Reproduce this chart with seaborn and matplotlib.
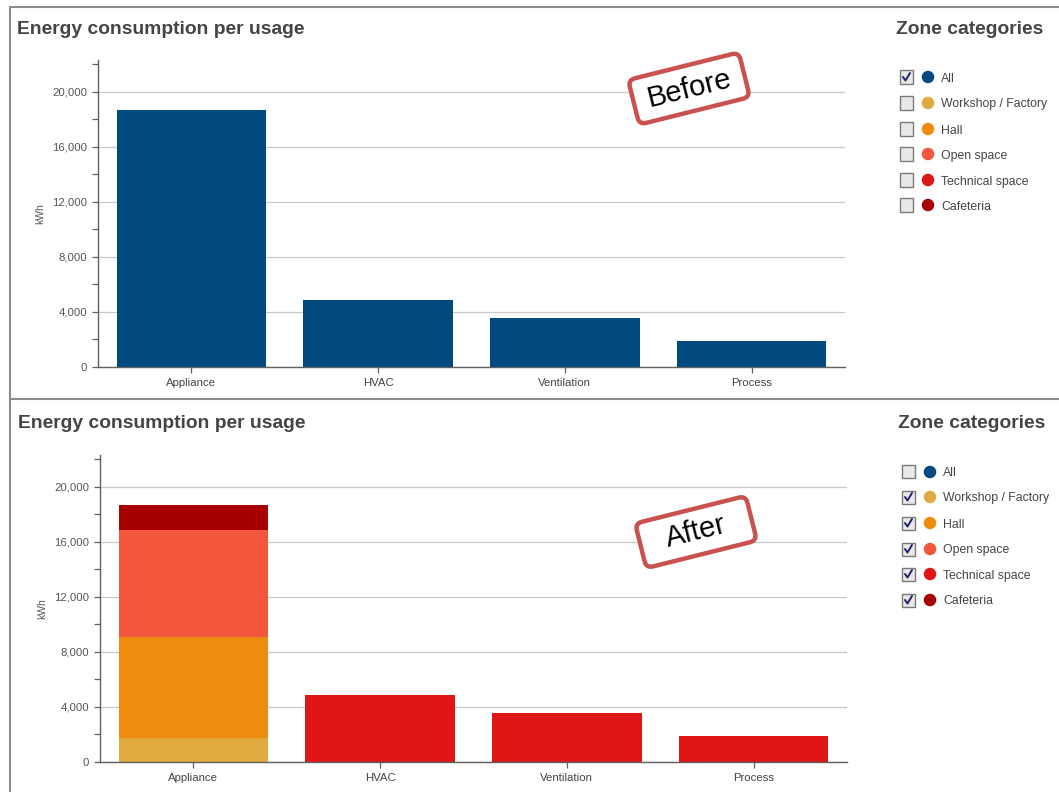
import matplotlib
matplotlib.use("Agg")
import matplotlib.pyplot as plt
import seaborn as sns
import numpy as np
from matplotlib.patches import Rectangle, Ellipse, FancyBboxPatch
from matplotlib.lines import Line2D
from matplotlib.transforms import Affine2D
from matplotlib.ticker import MultipleLocator, FuncFormatter

# ---------------- data ----------------
categories = ["Appliance", "HVAC", "Ventilation", "Process"]
all_zones = [18690, 4870, 3560, 1890]
workshop = [1750, 0, 0, 0]
hall = [7340, 0, 0, 0]
open_space = [7780, 0, 0, 0]
technical = [0, 4870, 3560, 1890]
cafeteria = [1820, 0, 0, 0]
zone_names = ["All", "Workshop / Factory", "Hall", "Open space", "Technical space", "Cafeteria"]
zone_colors = ["#004a80", "#e0aa40", "#ee8c10", "#f2573b", "#e01515", "#a80000"]
checked_before = [True, False, False, False, False, False]
checked_after = [False, True, True, True, True, True]
y_ticks = [0, 4000, 8000, 12000, 16000, 20000]
title = "Energy consumption per usage"
legend_title = "Zone categories"
y_label = "kWh"

# ---------------- setup ----------------
sns.set_theme(style="white")
plt.rcParams["font.family"] = ["Liberation Sans", "DejaVu Sans"]

W, H = 1059, 792
fig = plt.figure(figsize=(W / 100, H / 100), dpi=100)
fig.patch.set_facecolor("white")


def fx(px):
    return px / W


def fy(py):
    return 1 - py / H


ax1 = fig.add_axes([fx(98), fy(367), (845 - 98) / W, (367 - 60) / H])
ax2 = fig.add_axes([fx(100), fy(762), (847 - 100) / W, (762 - 455) / H])


def style(ax):
    ax.set_xlim(-0.5, 3.5)
    ax.set_ylim(0, 22300)
    ax.set_yticks(y_ticks)
    ax.yaxis.set_minor_locator(MultipleLocator(2000))
    ax.yaxis.set_major_formatter(FuncFormatter(lambda v, p: f"{int(v):,}"))
    ax.grid(axis="y", which="major", color="#c8c8c8", linewidth=0.9)
    ax.grid(axis="x", visible=False)
    ax.set_axisbelow(True)
    for s in ["top", "right"]:
        ax.spines[s].set_visible(False)
    for s in ["left", "bottom"]:
        ax.spines[s].set_color("#606060")
        ax.spines[s].set_linewidth(1.0)
    ax.tick_params(axis="y", which="both", left=True, length=4, width=0.9,
                   color="#606060", labelsize=8.2, labelcolor="#555555", pad=4)
    ax.tick_params(axis="x", bottom=True, length=4, width=0.9, color="#606060",
                   labelsize=8.2, labelcolor="#444444", pad=4)
    ax.set_xlabel("")
    ax.set_ylabel(y_label, fontsize=7.5, color="#555555")
    ax.yaxis.set_label_coords(-0.071, 0.5)
    ax.set_facecolor("white")


# Before: all zones
sns.barplot(x=categories, y=all_zones, color=zone_colors[0], width=0.8,
            saturation=1, linewidth=0, errorbar=None, ax=ax1)
style(ax1)

# After: stacked by zone (draw cumulative totals from top to bottom)
stack = np.array([workshop, hall, open_space, technical, cafeteria])
cum = np.cumsum(stack, axis=0)
for i in reversed(range(len(stack))):
    sns.barplot(x=categories, y=cum[i], color=zone_colors[i + 1], width=0.8,
                saturation=1, linewidth=0, errorbar=None, ax=ax2)
style(ax2)

# ---------------- frame lines ----------------
grey = "#8c8c8c"
fig.add_artist(Line2D([fx(10), 1], [fy(7), fy(7)], transform=fig.transFigure, color=grey, lw=1.5))
fig.add_artist(Line2D([fx(10), fx(10)], [fy(7), 0], transform=fig.transFigure, color=grey, lw=1.5))
fig.add_artist(Line2D([fx(10), 1], [fy(398.5), fy(398.5)], transform=fig.transFigure, color=grey, lw=1.5))

# ---------------- titles ----------------
for (tx, ty), (lx, ly) in [((17, 27), (896, 27)), ((18, 421), (898, 421))]:
    fig.text(fx(tx), fy(ty), title, fontsize=13.9, fontweight="bold", color="#444444",
             ha="left", va="center_baseline")
    fig.text(fx(lx), fy(ly), legend_title, fontsize=13.9, fontweight="bold", color="#444444",
             ha="left", va="center_baseline")


# ---------------- legends with checkboxes ----------------
def draw_legend(x0, rows_y, checked):
    for name, col, yy, chk in zip(zone_names, zone_colors, rows_y, checked):
        # checkbox
        fig.add_artist(Rectangle((fx(x0 - 6.5), fy(yy + 6.5)), 13 / W, 13 / H,
                                 transform=fig.transFigure, facecolor="#e8e8e8",
                                 edgecolor="#7a7a7a", lw=1.0))
        if chk:
            fig.add_artist(Line2D([fx(x0 - 3), fx(x0 - 0.5), fx(x0 + 4)],
                                  [fy(yy), fy(yy + 3.5), fy(yy - 4)],
                                  transform=fig.transFigure, color="#22226e", lw=1.4))
        # colour dot
        fig.add_artist(Ellipse((fx(x0 + 22), fy(yy)), 12.5 / W, 12.5 / H,
                               transform=fig.transFigure, facecolor=col, edgecolor="none"))
        fig.text(fx(x0 + 35), fy(yy), name, fontsize=8.8, color="#444444",
                 ha="left", va="center_baseline")


draw_legend(906, [77, 103, 129, 154, 180, 205], checked_before)
draw_legend(908, [472, 497, 523, 549, 574, 600], checked_after)


# ---------------- stamps ----------------
def stamp(cx, cy, text, angle=14):
    w, h = 114, 46
    tr = Affine2D().rotate_deg(angle).translate(cx, H - cy)
    box = FancyBboxPatch((-w / 2, -h / 2), w, h,
                         boxstyle="round,pad=0,rounding_size=7",
                         transform=tr, facecolor="white", edgecolor="#c9524f", lw=3.2)
    fig.add_artist(box)
    fig.text(fx(cx), fy(cy), text, fontsize=21, color="black", rotation=angle,
             rotation_mode="anchor", ha="center", va="center")


stamp(689, 88.5, "Before")
stamp(696, 532, "After")

fig.savefig("out.png", dpi=100, facecolor="white")
